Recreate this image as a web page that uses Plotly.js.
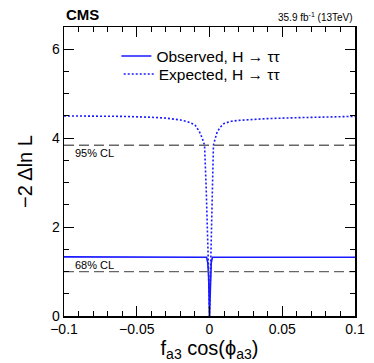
<!DOCTYPE html>
<html><head><meta charset="utf-8">
<script src="https://cdn.plot.ly/plotly-3.0.1.min.js"></script>
<style>html,body{margin:0;padding:0;background:#fff}#plot{width:374px;height:363px}</style>
</head><body><div id="plot"></div>
<script>
const expX = [-0.1,-0.08,-0.06,-0.04,-0.03,-0.02,-0.015,-0.01,-0.007,-0.005,-0.0034,-0.0023,-0.0015,-0.0008,0,0.0008,0.0014,0.002,0.0027,0.004,0.0053,0.0075,0.01,0.015,0.02,0.03,0.04,0.06,0.08,0.1];
const expY = [4.50,4.50,4.49,4.47,4.45,4.41,4.37,4.30,4.15,4.00,3.84,2.90,2.10,1.20,0,1.20,2.10,2.90,3.84,4.00,4.14,4.25,4.33,4.38,4.40,4.42,4.44,4.46,4.48,4.49];
const obsX = [-0.1,-0.05,-0.002,-0.0012,-0.0006,0,0.0006,0.0012,0.002,0.05,0.1];
const obsY = [1.33,1.33,1.32,1.2,0.9,0,0.9,1.2,1.32,1.32,1.32];
const clLevels = [3.84, 1.0];
const clLabels = ['95% CL', '68% CL'];
const clLabelY = [3.66, 1.15];
const xRange = [-0.1, 0.1];
const yRange = [0, 6.5];

const blue = '#1a1aff';
const traces = [
  {x: obsX, y: obsY, mode:'lines', name:'Observed, H \u2192 \u03c4\u03c4', legend:'legend', line:{color:blue, width:1.6}},
  {x: expX, y: expY, mode:'lines', name:'Expected, H \u2192 \u03c4\u03c4', legend:'legend2', line:{color:blue, width:1.6, dash:'2px,2px'}}
];
clLevels.forEach(v => traces.push({x: xRange, y:[v,v], mode:'lines', showlegend:false, hoverinfo:'skip', line:{color:'#666', width:1.3, dash:'10px,5px'}}));

const annotations = [
  {text:'<b>CMS</b>', xref:'paper', yref:'paper', x:0, y:1, xanchor:'left', yanchor:'bottom', yshift:2, showarrow:false, font:{size:15, color:'#000'}},
  {text:'35.9 fb<sup>-1</sup> (13TeV)', xref:'paper', yref:'paper', x:1, y:1, xanchor:'right', yanchor:'bottom', yshift:2, showarrow:false, font:{size:10, color:'#000'}}
];
clLabels.forEach((t,i) => annotations.push({text:t, xref:'x', yref:'y', x:-0.0935, y:clLabelY[i], xanchor:'left', yanchor:'middle', showarrow:false, font:{size:11, color:'#000'}}));

const legStyle = {xanchor:'left', yanchor:'middle', bgcolor:'rgba(0,0,0,0)', font:{size:15.5}, itemwidth:30};
const layout = {
  width:374, height:363,
  margin:{l:64, r:19, t:27, b:47},
  paper_bgcolor:'#fff', plot_bgcolor:'#fff',
  font:{family:'Liberation Sans, Arial, sans-serif', color:'#000'},
  showlegend:true,
  legend: Object.assign({x:0.18, y:0.898}, legStyle),
  legend2: Object.assign({x:0.188, y:0.836}, legStyle),
  xaxis:{range:xRange, dtick:0.05, tick0:0, ticks:'inside', ticklen:10, tickcolor:'#000', showline:true, linecolor:'#000', linewidth:1.5, mirror:'ticks', zeroline:false, showgrid:false,
    tickfont:{size:14}, minor:{dtick:0.01, ticks:'inside', ticklen:5, tickcolor:'#000', showgrid:false},
    title:{text:'f<sub>a3</sub> cos(\u03d5<sub>a3</sub>)', font:{size:20}, standoff:0}},
  yaxis:{range:yRange, dtick:2, tick0:0, ticks:'inside', ticklen:10, tickcolor:'#000', showline:true, linecolor:'#000', linewidth:1.5, mirror:'ticks', zeroline:false, showgrid:false,
    tickfont:{size:14}, minor:{dtick:0.5, ticks:'inside', ticklen:5, tickcolor:'#000', showgrid:false},
    title:{text:'\u22122 \u0394ln L', font:{size:20}, standoff:14}},
  annotations: annotations
};
Plotly.newPlot('plot', traces, layout, {displayModeBar:false, staticPlot:true});
</script></body></html>
